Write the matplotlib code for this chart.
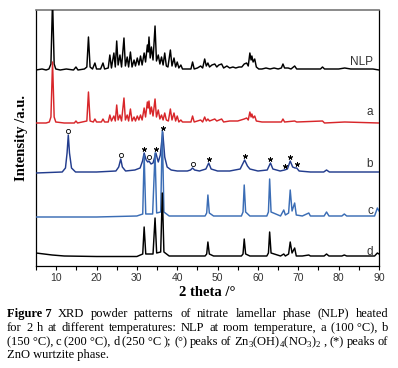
import numpy as np
import matplotlib.pyplot as plt

plt.rcParams['mathtext.fontset'] = 'custom'
plt.rcParams['mathtext.rm'] = 'Liberation Serif'

# XRD patterns: (2 theta, intensity above own baseline)
nlp = [(5.0, 0), (6.5, 1), (7.5, 0), (8.2, 1), (8.7, 6), (9.1, 70), (9.5, 6), (9.9, 1),
       (11.0, 0), (12.5, 1), (14.3, 0), (14.9, 3), (15.4, 0), (17.0, 1), (17.6, 3),
       (18.0, 33), (18.4, 3), (19.0, 1), (19.6, 7), (20.0, 1), (21.0, 1), (21.6, 7),
       (22.0, 1), (22.9, 2), (23.3, 15), (23.7, 2), (24.3, 17), (24.65, 3), (25.0, 29),
       (25.35, 5), (25.8, 15), (26.2, 3), (26.8, 32), (27.15, 4), (27.6, 13), (27.95, 3),
       (28.4, 18), (28.8, 3), (29.3, 10), (29.65, 4), (30.1, 12), (30.5, 5), (30.9, 14),
       (31.3, 5), (31.8, 17), (32.15, 8), (32.6, 25), (32.8, 18), (33.0, 33), (33.3, 12),
       (33.6, 23), (34.0, 10), (34.5, 44), (34.85, 9), (35.3, 15), (35.7, 6), (36.1, 13),
       (36.5, 5), (36.9, 17), (37.3, 4), (37.7, 3), (38.3, 20), (38.7, 4), (39.2, 12),
       (39.6, 3), (40.0, 8), (40.4, 2), (40.9, 5), (41.3, 1), (42.5, 1), (43.4, 1),
       (43.8, 8), (44.2, 1), (45.0, 2), (45.8, 4), (46.3, 2), (46.8, 11), (47.2, 4),
       (47.6, 7), (48.0, 3), (48.6, 5), (49.3, 6), (49.8, 3), (50.3, 5), (51.0, 6),
       (51.5, 2), (52.3, 4), (53.0, 2), (53.8, 3), (54.5, 2), (55.3, 3), (56.0, 3),
       (56.6, 6), (57.2, 7), (57.6, 4), (58.0, 17), (58.3, 10), (58.5, 14), (58.8, 8),
       (59.2, 11), (59.6, 3), (60.2, 1), (61.0, 1), (62.0, 2), (63.0, 1), (64.0, 2),
       (65.0, 1), (65.8, 2), (66.2, 6), (66.6, 2), (67.5, 2), (68.2, 1), (69.1, 4),
       (69.6, 1), (71.0, 1), (72.5, 1), (74.0, 1), (75.5, 1), (76.0, 3), (76.5, 1),
       (78.0, 1), (80.0, 1), (81.5, 2), (83.0, 1), (85.0, 1), (87.0, 1), (88.5, 1), (90.0, 0)]

a_100 = [(5.0, 0), (7.5, 0), (8.3, 1), (8.7, 6), (9.1, 61), (9.5, 6), (9.9, 1), (12.0, 0),
         (14.5, 0), (14.9, 2), (15.3, 0), (17.6, 2), (18.0, 31), (18.4, 2), (19.2, 1),
         (19.6, 4), (20.0, 1), (21.2, 1), (21.6, 4), (22.0, 1), (22.9, 1), (23.3, 8),
         (23.7, 2), (24.3, 7), (24.65, 2), (25.0, 18), (25.35, 3), (25.8, 8), (26.2, 2),
         (26.8, 25), (27.15, 3), (27.6, 8), (27.95, 2), (28.4, 14), (28.8, 2), (29.3, 6),
         (29.65, 2), (30.1, 7), (30.5, 3), (30.9, 8), (31.3, 3), (31.8, 15), (32.15, 6),
         (32.6, 21), (32.8, 15), (33.0, 22), (33.3, 9), (33.6, 16), (34.0, 7), (34.5, 24),
         (34.85, 6), (35.3, 13), (35.7, 4), (36.1, 8), (36.5, 3), (36.9, 10), (37.3, 3),
         (37.8, 2), (38.3, 14), (38.7, 3), (39.2, 10), (39.6, 2), (40.0, 7), (40.4, 1),
         (40.9, 3), (41.3, 1), (43.4, 1), (43.8, 7), (44.2, 1), (45.8, 3), (46.3, 1),
         (46.8, 6), (47.2, 2), (47.6, 4), (48.0, 2), (49.3, 4), (49.8, 2), (51.0, 4),
         (51.5, 1), (53.0, 2), (55.0, 2), (56.6, 4), (57.2, 5), (57.6, 3), (58.0, 11),
         (58.3, 6), (58.5, 9), (58.8, 5), (59.2, 7), (59.6, 2), (61.0, 1), (63.0, 1),
         (65.8, 1), (66.2, 4), (66.6, 1), (69.1, 2), (69.6, 1), (76.0, 2), (76.5, 0),
         (81.5, 1), (90.0, 0)]

b_150 = [(5.0, 0), (11.5, 1), (12.3, 5), (12.7, 20), (13.0, 38), (13.3, 20), (13.8, 5),
         (14.8, 1), (20.0, 1), (24.8, 2), (25.5, 6), (26.0, 14), (26.4, 6), (27.2, 2),
         (29.5, 3), (30.8, 5), (31.4, 12), (31.8, 20), (32.3, 13), (32.7, 11), (33.0, 12),
         (33.5, 9), (34.0, 10), (34.7, 20), (35.3, 11), (35.8, 18), (36.4, 41), (36.9, 16),
         (37.5, 6), (38.5, 3), (40.0, 2), (42.5, 2), (43.3, 3), (43.8, 5), (44.3, 3),
         (45.5, 2), (47.1, 4), (47.8, 10), (48.4, 4), (50.0, 2), (53.0, 2), (55.6, 4),
         (56.7, 13), (57.4, 7), (58.0, 4), (60.0, 2), (62.3, 3), (63.1, 10), (63.7, 4),
         (65.5, 2), (66.6, 3), (67.3, 4), (68.0, 12), (68.6, 6), (69.2, 5), (69.6, 5),
         (70.2, 2), (73.0, 1), (76.3, 1), (77.0, 3), (77.7, 1), (82.0, 1), (90.0, 1)]

c_200 = [(5.0, 0), (20.0, 0), (30.0, 1), (31.45, 3), (31.8, 62), (32.2, 3), (33.9, 3),
         (34.5, 64), (34.9, 4), (35.9, 5), (36.3, 87), (36.7, 5), (38.0, 1), (46.9, 1),
         (47.3, 4), (47.6, 22), (47.95, 4), (49.0, 1), (55.9, 1), (56.3, 5), (56.6, 32),
         (56.95, 5), (58.0, 1), (62.2, 1), (62.6, 5), (62.9, 38), (63.25, 5), (65.6, 1),
         (66.4, 7), (66.8, 2), (67.6, 4), (68.0, 27), (68.45, 6), (69.1, 14), (69.5, 2),
         (71.0, 1), (72.6, 4), (73.0, 1), (76.4, 1), (77.0, 5), (77.6, 1), (80.8, 1),
         (81.4, 3), (82.0, 1), (88.9, 1), (89.6, 9), (90.0, 6)]

d_250 = [(5.0, 4), (7.0, 3), (9.0, 2), (12.0, 1), (20.0, 0.5), (30.0, 0.5), (31.45, 3),
         (31.8, 30), (32.2, 3), (34.0, 3), (34.5, 39), (34.9, 4), (35.9, 5), (36.3, 64),
         (36.7, 5), (38.0, 1), (46.9, 1), (47.3, 3), (47.6, 15), (47.95, 3), (49.0, 1),
         (55.9, 1), (56.3, 3), (56.6, 18), (56.95, 3), (58.0, 1), (62.2, 1), (62.6, 4),
         (62.9, 25), (63.25, 4), (65.6, 1), (66.4, 3), (66.8, 1), (67.6, 3), (68.0, 15),
         (68.45, 4), (69.1, 9), (69.5, 1), (71.0, 1), (72.6, 2), (73.0, 1), (76.4, 1),
         (77.0, 3), (77.6, 1), (80.8, 1), (81.4, 2), (82.0, 1), (88.9, 1), (89.6, 4), (90.0, 3)]

# peak markers on pattern b
circle_pos = [13.0, 26.0, 33.0, 43.8]
circle_int = [38, 14, 12, 5]
star_pos = [31.8, 34.7, 36.4, 47.8, 56.7, 63.1, 66.6, 68.0, 69.6]
star_int = [20, 20, 41, 10, 13, 10, 3, 12, 5]

names = ['NLP', 'a', 'b', 'c', 'd']
patterns = [nlp, a_100, b_150, c_200, d_250]

caption_lines = [
    ['Figure 7', 'XRD', 'powder', 'patterns', 'of', 'nitrate', 'lamellar', 'phase', '(NLP)', 'heated'],
    ['for', '2', 'h', 'at', 'different', 'temperatures:', 'NLP', 'at', 'room', 'temperature,',
     'a', '(100 °C),', 'b'],
    ['(150 °C),', 'c', '(200 °C),', 'd', '(250 °C', ');', '(°)', 'peaks', 'of',
     r'Zn$_3$(OH)$_4$(NO$_3$)$_2$', ',', '(*)', 'peaks', 'of'],
]
caption_last = 'ZnO wurtzite phase.'

offsets = [196, 143, 93, 49, 9]
colors = ['black', '#d8262a', '#233d8e', '#3b6db5', 'black']
label_y = [204, 154, 102, 55, 14]

fig = plt.figure(figsize=(3.98, 3.68), dpi=100)
ax = fig.add_axes([36/398, 102/368, 343/398, 256/368])

for pat, off, col in zip(patterns, offsets, colors):
    p = np.array(pat)
    ax.plot(p[:, 0], p[:, 1] + off, color=col, lw=1.05, zorder=3)

ax.plot(circle_pos, np.array(circle_int) + offsets[2] + 4, ls='none', marker='o',
        ms=3, mfc='white', mec='black', mew=0.6, zorder=4)
ax.plot(star_pos, np.array(star_int) + offsets[2] + 4, ls='none', marker=(5, 2, 0),
        ms=3.5, color='black', mew=0.6, zorder=4)

for name, ly in zip(names, label_y):
    ax.text(88.5, ly, name, ha='right', va='center', fontsize=8.5,
            family='Liberation Sans', color='#333333')

ax.set_xlim(5, 90)
ax.set_ylim(0, 256)
ax.set_xticks(np.arange(10, 91, 10))
ax.set_xticks(np.arange(5, 91, 5), minor=True)
ax.set_yticks([])
ax.tick_params(axis='x', which='both', direction='out', length=3, width=0.8,
               labelsize=7.5, pad=2, labelcolor='#333333')
for lab in ax.get_xticklabels():
    lab.set_family('Liberation Sans')
ax.spines['top'].set_color('#777777')
ax.spines['top'].set_linewidth(1.2)
for s in ['left', 'right', 'bottom']:
    ax.spines[s].set_linewidth(0.9)

ax.set_xlabel('2 theta /°', fontsize=10.5, fontweight='bold', family='Liberation Serif', labelpad=2)
ax.set_ylabel('Intensity /a.u.', fontsize=10.5, fontweight='bold', family='Liberation Serif', labelpad=6)

# caption, justified between x=7 and x=388 px
W, H = 398, 368
cap_kw = dict(fontsize=9.0, family='Liberation Serif', va='baseline', ha='left')
r = fig.canvas.get_renderer()
left, right = 7, 388
base_y = [317, 331, 345, 358]
for words, by in zip(caption_lines, base_y):
    arts = []
    for i, wd in enumerate(words):
        bold = 'bold' if wd == 'Figure 7' else 'normal'
        arts.append(fig.text(0, 1 - by/H, wd, fontweight=bold, **cap_kw))
    widths = [t.get_window_extent(r).width for t in arts]
    gap = (right - left - sum(widths)) / (len(words) - 1)
    x = left
    for t, wd in zip(arts, widths):
        t.set_x(x / W)
        x += wd + gap
fig.text(left / W, 1 - base_y[3]/H, caption_last, **cap_kw)

fig.savefig('out.png', dpi=100)
